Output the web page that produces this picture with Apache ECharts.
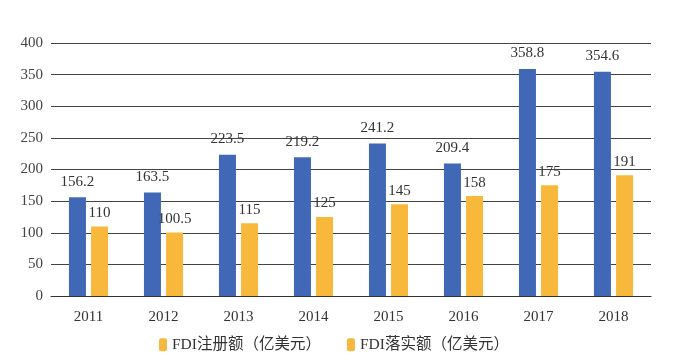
<!DOCTYPE html>
<html><head><meta charset="utf-8">
<script src="https://cdn.jsdelivr.net/npm/echarts@6/dist/echarts.min.js"></script>
<style>html,body{margin:0;padding:0;background:#fff}#c{width:675px;height:362px}</style>
</head><body><div id="c"></div>
<script>
const years = ['2011','2012','2013','2014','2015','2016','2017','2018'];
const registered = [156.2,163.5,223.5,219.2,241.2,209.4,358.8,354.6];
const implemented = [110,100.5,115,125,145,158,175,191];
const seriesNames = ['FDI注册额（亿美元）','FDI落实额（亿美元）'];
const FONT = '"Liberation Serif","DejaVu Serif","Noto Sans CJK SC",serif';
const chart = echarts.init(document.getElementById('c'));
chart.setOption({
  animation:false,
  textStyle:{fontFamily:FONT},
  grid:{left:51,right:24,top:43,height:253,containLabel:false},
  legend:{
    top:332,left:154,itemWidth:8,itemHeight:13,itemGap:26,
    textStyle:{fontFamily:FONT,fontSize:15.5,color:'#333'},
    data:[{name:seriesNames[0],itemStyle:{color:'#F6B83E'}},{name:seriesNames[1],itemStyle:{color:'#F6B83E'}}]
  },
  xAxis:{type:'category',data:years,
    axisLine:{lineStyle:{color:'#333',width:1.2}},axisTick:{show:false},
    axisLabel:{color:'#333',fontSize:15,fontFamily:FONT,margin:14}},
  yAxis:{type:'value',min:0,max:400,interval:50,
    axisLine:{show:false},axisTick:{show:false},
    axisLabel:{color:'#444',fontSize:15,fontFamily:FONT,margin:8},
    splitLine:{lineStyle:{color:'#444',width:1.2}}},
  series:[
    {name:seriesNames[0],type:'bar',data:registered,barWidth:17,barGap:'30%',
     itemStyle:{color:'#4168B6'},
     label:{show:true,position:'top',color:'#333',fontSize:15,fontFamily:FONT,distance:8}},
    {name:seriesNames[1],type:'bar',data:implemented,barWidth:17,
     itemStyle:{color:'#F8B83C'},
     label:{show:true,position:'top',color:'#333',fontSize:15,fontFamily:FONT,distance:6}}
  ]
});
</script></body></html>
